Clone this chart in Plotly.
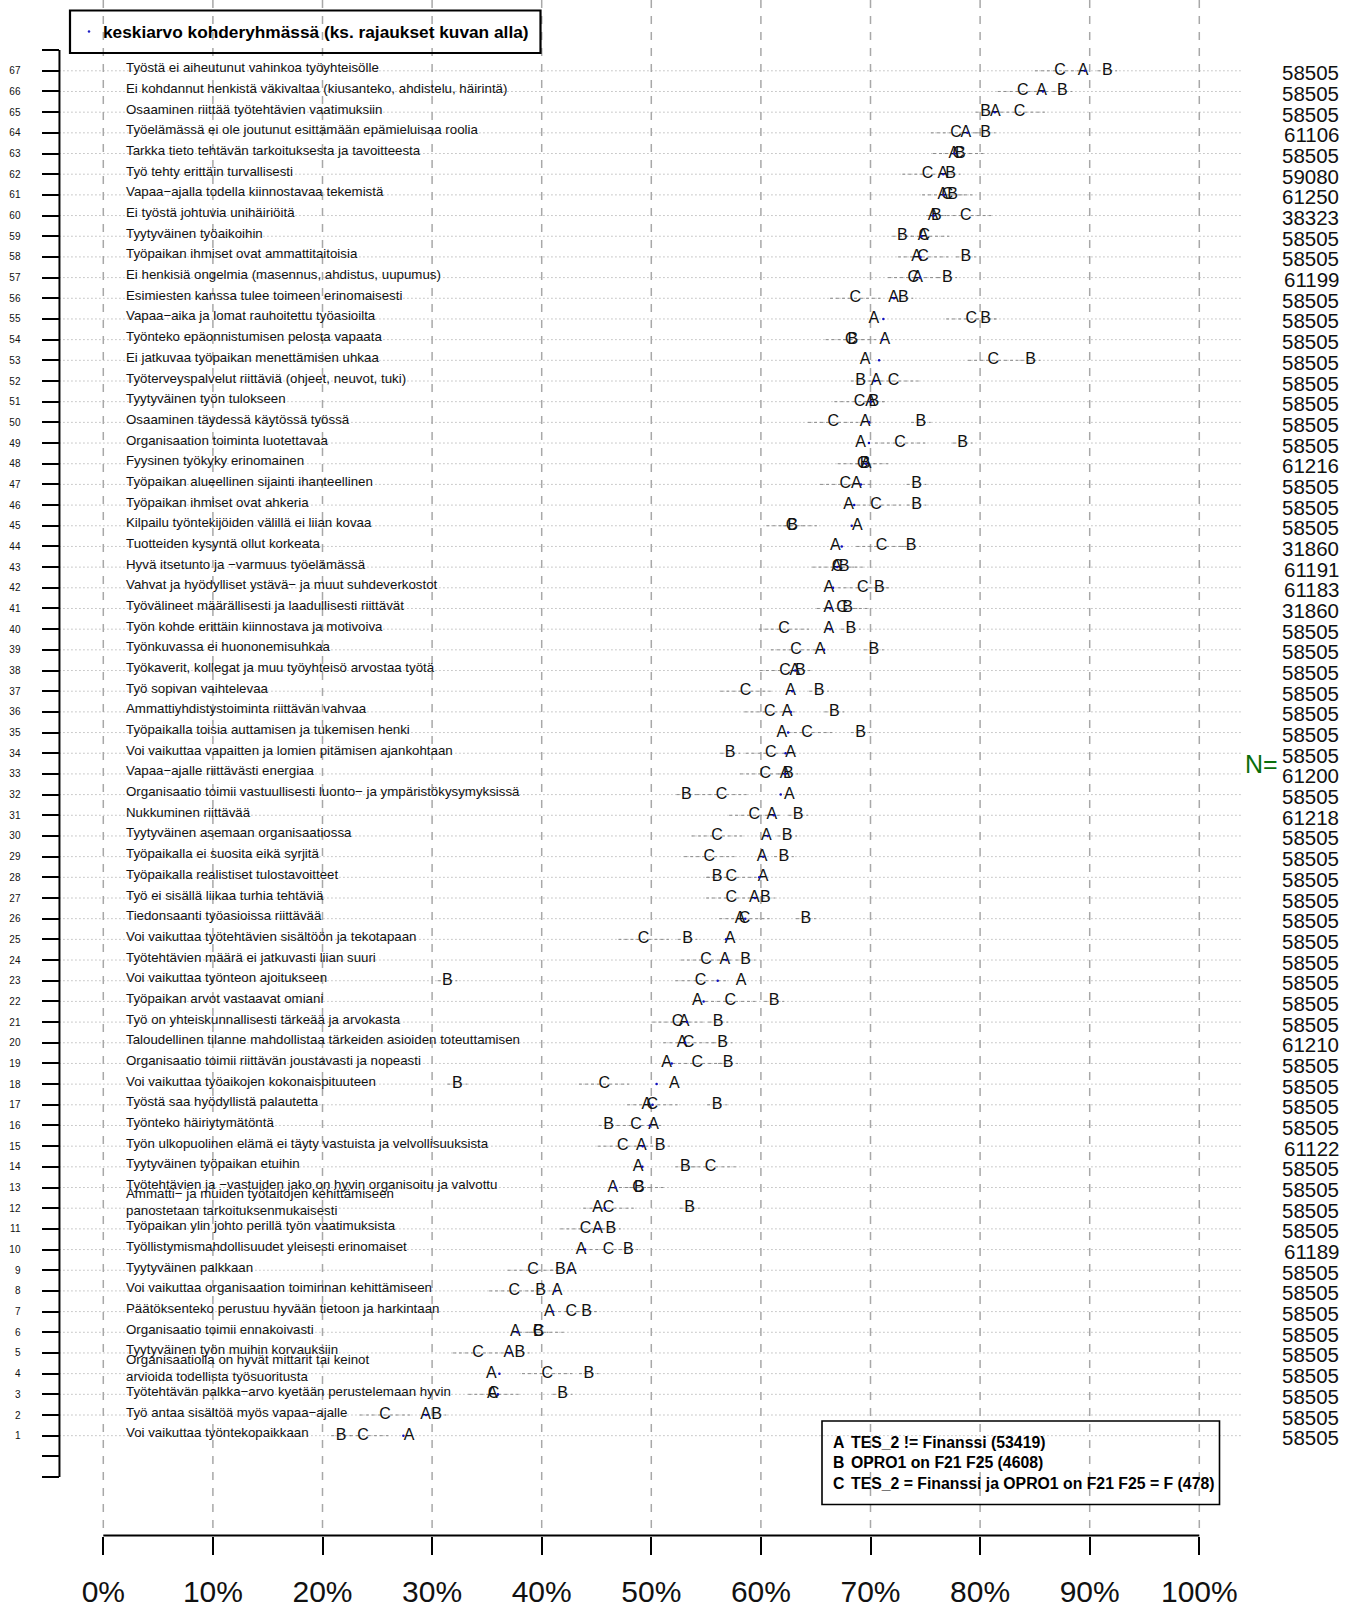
import plotly.graph_objects as go

# ---------------- data (rows listed top -> bottom: 67 ... 1) ----------------
rows = list(range(67, 0, -1))
labels = [
    "Työstä ei aiheutunut vahinkoa työyhteisölle",
    "Ei kohdannut henkistä väkivaltaa (kiusanteko, ahdistelu, häirintä)",
    "Osaaminen riittää työtehtävien vaatimuksiin",
    "Työelämässä ei ole joutunut esittämään epämieluisaa roolia",
    "Tarkka tieto tehtävän tarkoituksesta ja tavoitteesta",
    "Työ tehty erittäin turvallisesti",
    "Vapaa−ajalla todella kiinnostavaa tekemistä",
    "Ei työstä johtuvia unihäiriöitä",
    "Tyytyväinen työaikoihin",
    "Työpaikan ihmiset ovat ammattitaitoisia",
    "Ei henkisiä ongelmia (masennus, ahdistus, uupumus)",
    "Esimiesten kanssa tulee toimeen erinomaisesti",
    "Vapaa−aika ja lomat rauhoitettu työasioilta",
    "Työnteko epäonnistumisen pelosta vapaata",
    "Ei jatkuvaa työpaikan menettämisen uhkaa",
    "Työterveyspalvelut riittäviä (ohjeet, neuvot, tuki)",
    "Tyytyväinen työn tulokseen",
    "Osaaminen täydessä käytössä työssä",
    "Organisaation toiminta luotettavaa",
    "Fyysinen työkyky erinomainen",
    "Työpaikan alueellinen sijainti ihanteellinen",
    "Työpaikan ihmiset ovat ahkeria",
    "Kilpailu työntekijöiden välillä ei liian kovaa",
    "Tuotteiden kysyntä ollut korkeata",
    "Hyvä itsetunto ja −varmuus työelämässä",
    "Vahvat ja hyödylliset ystävä− ja muut suhdeverkostot",
    "Työvälineet määrällisesti ja laadullisesti riittävät",
    "Työn kohde erittäin kiinnostava ja motivoiva",
    "Työnkuvassa ei huononemisuhkaa",
    "Työkaverit, kollegat ja muu työyhteisö arvostaa työtä",
    "Työ sopivan vaihtelevaa",
    "Ammattiyhdistystoiminta riittävän vahvaa",
    "Työpaikalla toisia auttamisen ja tukemisen henki",
    "Voi vaikuttaa vapaitten ja lomien pitämisen ajankohtaan",
    "Vapaa−ajalle riittävästi energiaa",
    "Organisaatio toimii vastuullisesti luonto− ja ympäristökysymyksissä",
    "Nukkuminen riittävää",
    "Tyytyväinen asemaan organisaatiossa",
    "Työpaikalla ei suosita eikä syrjitä",
    "Työpaikalla realistiset tulostavoitteet",
    "Työ ei sisällä liikaa turhia tehtäviä",
    "Tiedonsaanti työasioissa riittävää",
    "Voi vaikuttaa työtehtävien sisältöön ja tekotapaan",
    "Työtehtävien määrä ei jatkuvasti liian suuri",
    "Voi vaikuttaa työnteon ajoitukseen",
    "Työpaikan arvot vastaavat omiani",
    "Työ on yhteiskunnallisesti tärkeää ja arvokasta",
    "Taloudellinen tilanne mahdollistaa tärkeiden asioiden toteuttamisen",
    "Organisaatio toimii riittävän joustavasti ja nopeasti",
    "Voi vaikuttaa työaikojen kokonaispituuteen",
    "Työstä saa hyödyllistä palautetta",
    "Työnteko häiriytymätöntä",
    "Työn ulkopuolinen elämä ei täyty vastuista ja velvollisuuksista",
    "Tyytyväinen työpaikan etuihin",
    "Työtehtävien ja −vastuiden jako on hyvin organisoitu ja valvottu",
    "Ammatti− ja muiden työtaitojen kehittämiseen<br>panostetaan tarkoituksenmukaisesti",
    "Työpaikan ylin johto perillä työn vaatimuksista",
    "Työllistymismahdollisuudet yleisesti erinomaiset",
    "Tyytyväinen palkkaan",
    "Voi vaikuttaa organisaation toiminnan kehittämiseen",
    "Päätöksenteko perustuu hyvään tietoon ja harkintaan",
    "Organisaatio toimii ennakoivasti",
    "Tyytyväinen työn muihin korvauksiin",
    "Organisaatiolla on hyvät mittarit tai keinot<br>arvioida todellista työsuoritusta",
    "Työtehtävän palkka−arvo kyetään perustelemaan hyvin",
    "Työ antaa sisältöä myös vapaa−ajalle",
    "Voi vaikuttaa työntekopaikkaan",
]
n_vals = [
    58505, 58505, 58505, 61106, 58505, 59080, 61250, 38323, 58505, 58505,
    61199, 58505, 58505, 58505, 58505, 58505, 58505, 58505, 58505, 61216,
    58505, 58505, 58505, 31860, 61191, 61183, 31860, 58505, 58505, 58505,
    58505, 58505, 58505, 58505, 61200, 58505, 61218, 58505, 58505, 58505,
    58505, 58505, 58505, 58505, 58505, 58505, 58505, 61210, 58505, 58505,
    58505, 58505, 61122, 58505, 58505, 58505, 58505, 61189, 58505, 58505,
    58505, 58505, 58505, 58505, 58505, 58505, 58505,
]
val_A = [
    89.4, 85.6, 81.4, 78.7, 77.6, 76.6, 76.6, 75.7, 74.8, 74.2,
    74.3, 72.1, 70.3, 71.3, 69.5, 70.5, 70.0, 69.5, 69.1, 69.6,
    68.7, 68.0, 68.8, 66.8, 66.9, 66.2, 66.2, 66.2, 65.4, 63.1,
    62.7, 62.4, 61.9, 62.7, 62.2, 62.6, 61.0, 60.5, 60.1, 60.2,
    59.4, 58.1, 57.2, 56.7, 58.2, 54.2, 53.0, 52.8, 51.4, 52.1,
    49.6, 50.2, 49.1, 48.8, 46.5, 45.1, 45.1, 43.6, 42.7, 41.4,
    40.7, 37.6, 37.0, 35.4, 35.5, 29.4, 27.9,
]
val_B = [
    91.6, 87.5, 80.5, 80.5, 78.2, 77.3, 77.5, 76.0, 72.9, 78.7,
    77.0, 73.0, 80.5, 68.4, 84.6, 69.1, 70.3, 74.6, 78.4, 69.5,
    74.2, 74.2, 62.9, 73.7, 67.6, 70.8, 67.9, 68.2, 70.3, 63.6,
    65.3, 66.7, 69.1, 57.2, 62.5, 53.2, 63.4, 62.4, 62.1, 56.0,
    60.4, 64.1, 53.3, 58.6, 31.4, 61.2, 56.1, 56.5, 57.0, 32.3,
    56.0, 46.1, 50.8, 53.1, 48.9, 53.5, 46.3, 47.9, 41.7, 39.9,
    44.1, 39.7, 38.0, 44.3, 41.9, 30.4, 21.7,
]
val_C = [
    87.3, 83.9, 83.6, 77.8, 78.0, 75.2, 77.0, 78.7, 74.9, 74.8,
    73.9, 68.6, 79.2, 68.2, 81.2, 72.1, 69.0, 66.6, 72.7, 69.3,
    67.7, 70.5, 62.8, 71.0, 67.0, 69.3, 67.4, 62.1, 63.2, 62.2,
    58.6, 60.8, 64.2, 60.9, 60.4, 56.4, 59.4, 56.0, 55.3, 57.3,
    57.3, 58.5, 49.3, 55.0, 54.5, 57.2, 52.4, 53.4, 54.2, 45.7,
    50.1, 48.6, 47.4, 55.4, 48.8, 46.1, 44.0, 46.1, 39.2, 37.5,
    42.7, 39.7, 34.2, 40.5, 35.6, 25.7, 23.7,
]
group_sizes = {"A": 53419, "B": 4608, "C": 478}
ci_half = {"A": 0.3, "B": 0.9, "C": 2.3}
legend_lines = [
    ("A", "TES_2 != Finanssi (53419)"),
    ("B", "OPRO1 on F21 F25 (4608)"),
    ("C", "TES_2 = Finanssi ja OPRO1 on F21 F25 = F (478)"),
]
top_legend_text = "keskiarvo kohderyhmässä (ks. rajaukset kuvan alla)"
x_ticks = list(range(0, 101, 10))
x_ticktext = [f"{v}%" for v in x_ticks]

# ---------------- geometry ----------------
W, H = 1355, 1608
X0_PX, PX_PER_X = 103.3, 10.96
ROW67_PX, PX_PER_ROW = 70.8, 20.68
x_range = [-X0_PX / PX_PER_X, (W - X0_PX) / PX_PER_X]
y_range = [67 - (H - ROW67_PX) / PX_PER_ROW, 67 + ROW67_PX / PX_PER_ROW]


def px(x):
    return x / W


def py(y):
    return 1 - y / H


def row_at(ypx):
    return 67 - (ypx - ROW67_PX) / PX_PER_ROW


FONT = "Liberation Sans, Arial, Helvetica, sans-serif"
fig = go.Figure()

# horizontal dotted guide lines
hx, hy = [], []
for r in rows:
    hx += [-4, 104, None]
    hy += [r, r, None]
fig.add_trace(go.Scatter(x=hx, y=hy, mode="lines", hoverinfo="skip",
                         line=dict(color="#9a9a9a", width=1, dash="1px,3px"),
                         showlegend=False))

# vertical dashed grid lines
vx, vy = [], []
for v in x_ticks:
    vx += [v, v, None]
    vy += [y_range[1], row_at(1528), None]
fig.add_trace(go.Scatter(x=vx, y=vy, mode="lines", hoverinfo="skip",
                         line=dict(color="#a8a8a8", width=1.5, dash="8px,8px"),
                         showlegend=False))

# interval segments around each group value
groups = {"A": val_A, "B": val_B, "C": val_C}
for g, vals in groups.items():
    sx, sy = [], []
    for r, v in zip(rows, vals):
        sx += [v - ci_half[g], v + ci_half[g], None]
        sy += [r, r, None]
    fig.add_trace(go.Scatter(x=sx, y=sy, mode="lines", hoverinfo="skip",
                             line=dict(color="#8c8c8c", width=1, dash="3px,3px"),
                             showlegend=False))

# group letters
for g, vals in groups.items():
    fig.add_trace(go.Scatter(x=vals, y=rows, mode="text", text=[g] * len(rows),
                             textposition="middle center", cliponaxis=False,
                             textfont=dict(family=FONT, size=16, color="#111111"),
                             hoverinfo="skip", showlegend=False))

# mean of the whole target group (weighted by group sizes)
tot = sum(group_sizes.values())
mean_vals = [(a * group_sizes["A"] + b * group_sizes["B"] + c * group_sizes["C"]) / tot
             for a, b, c in zip(val_A, val_B, val_C)]
fig.add_trace(go.Scatter(x=mean_vals, y=rows, mode="markers", hoverinfo="skip",
                         marker=dict(color="#1010c0", size=2.5), showlegend=False))

annotations = []
# item labels
for r, lab in zip(rows, labels):
    annotations.append(dict(x=1.9, y=r, xref="x", yref="y", text=lab, showarrow=False,
                            xanchor="left", yanchor="middle", align="left",
                            yshift=6 if "<br>" in lab else 3,
                            font=dict(family=FONT, size=13.3, color="#111111")))
# N values
for r, n in zip(rows, n_vals):
    annotations.append(dict(x=px(1341), y=r, xref="paper", yref="y", text=str(n),
                            showarrow=False, xanchor="right", yanchor="middle", yshift=-2,
                            font=dict(family=FONT, size=20.5, color="#111111")))
annotations.append(dict(x=px(1243), y=33.5, xref="paper", yref="y", text="N=",
                        showarrow=False, xanchor="left", yanchor="middle",
                        font=dict(family=FONT, size=25, color="#0a6e0a")))
# top legend
annotations.append(dict(x=px(101), y=py(31.5), xref="paper", yref="paper",
                        text="<b>" + top_legend_text + "</b>", showarrow=False,
                        xanchor="left", yanchor="middle",
                        font=dict(family=FONT, size=17.3, color="#000000")))
# bottom legend
for i, (g, txt) in enumerate(legend_lines):
    yy = py(1442 + 20.5 * i)
    annotations.append(dict(x=px(831), y=yy, xref="paper", yref="paper", text="<b>" + g + "</b>",
                            showarrow=False, xanchor="left", yanchor="middle",
                            font=dict(family=FONT, size=15.8, color="#000000")))
    annotations.append(dict(x=px(849), y=yy, xref="paper", yref="paper", text="<b>" + txt + "</b>",
                            showarrow=False, xanchor="left", yanchor="middle",
                            font=dict(family=FONT, size=15.8, color="#000000")))

shapes = [
    # top legend box
    dict(type="rect", xref="paper", yref="paper", x0=px(70), x1=px(540.5), y0=py(10.5), y1=py(53),
         line=dict(color="black", width=2.2), fillcolor="rgba(0,0,0,0)", layer="above"),
    dict(type="circle", xref="paper", yref="paper", x0=px(88), x1=px(90), y0=py(30.5), y1=py(32.5),
         line=dict(color="#1010c0", width=0.5), fillcolor="#1010c0"),
    # bottom legend box
    dict(type="rect", xref="paper", yref="paper", x0=px(822), x1=px(1219.5), y0=py(1421), y1=py(1504.5),
         line=dict(color="black", width=1.6), fillcolor="rgba(0,0,0,0)"),
    # y axis line
    dict(type="line", xref="x", yref="y", x0=-4, x1=-4, y0=-1, y1=68,
         line=dict(color="black", width=2)),
    # x axis line
    dict(type="line", xref="x", yref="paper", x0=0, x1=100, y0=py(1535.5), y1=py(1535.5),
         line=dict(color="black", width=2)),
]

y_tickvals = list(range(-1, 69))
y_ticktext = [str(v) if 1 <= v <= 67 else "" for v in y_tickvals]

fig.update_layout(
    width=W, height=H,
    margin=dict(l=0, r=0, t=0, b=0),
    paper_bgcolor="white", plot_bgcolor="white",
    showlegend=False,
    annotations=annotations, shapes=shapes,
    xaxis=dict(range=x_range, anchor="free", position=py(1535.5), side="bottom",
               tickvals=x_ticks, ticktext=x_ticktext, ticks="outside", ticklen=18,
               tickwidth=2, tickcolor="black", showgrid=False, zeroline=False,
               showline=False, ticklabelstandoff=11,
               tickfont=dict(family=FONT, size=30, color="#111111")),
    yaxis=dict(range=y_range, anchor="free", position=px(X0_PX - 4 * PX_PER_X), side="left",
               tickvals=y_tickvals, ticktext=y_ticktext, ticks="outside", ticklen=17,
               tickwidth=2, tickcolor="black", showgrid=False, zeroline=False,
               showline=False, ticklabelstandoff=20,
               tickfont=dict(family=FONT, size=10, color="#111111")),
)

fig.write_html(
    "out.html",
    config={"displayModeBar": False},
    post_script="document.body.style.margin='0px';document.body.style.padding='0px';"
                "document.body.style.overflow='hidden';",
)
